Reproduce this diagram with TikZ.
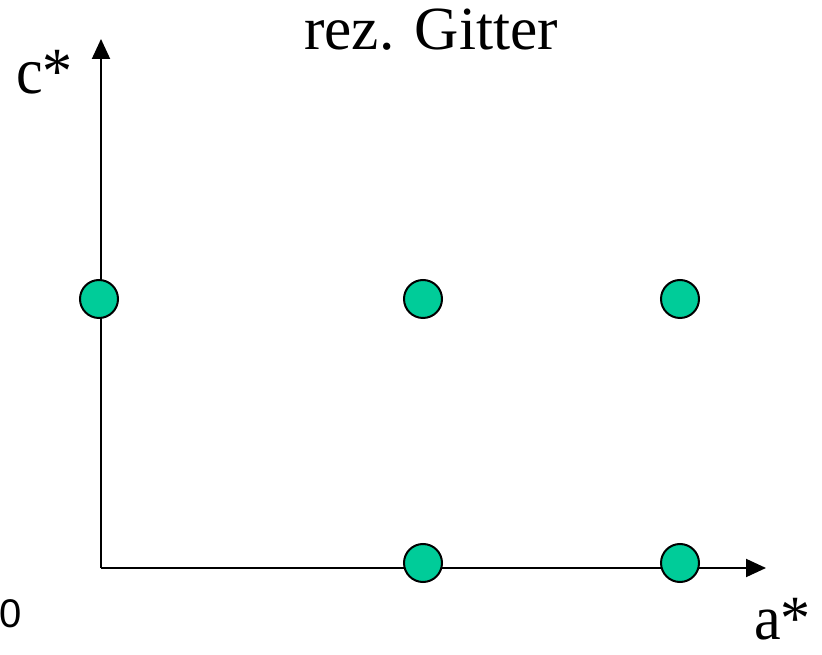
\documentclass[tikz,border=0pt]{standalone}
\usepackage{fontspec}
\setmainfont{Liberation Serif}
\newfontfamily\digitfont{Liberation Sans}
\usetikzlibrary{arrows.meta}

\definecolor{pointgreen}{RGB}{0,204,153}

\tikzset{
  axis/.style={line width=1.5pt, -{Triangle[length=15pt, width=13.5pt]}},
  latticepoint/.style={circle, draw=black, line width=1.5pt, fill=pointgreen,
    minimum size=28.5pt, inner sep=0pt},
  biglabel/.style={inner sep=0pt, font=\fontsize{45}{45}\selectfont}
}

\begin{document}
\begin{tikzpicture}[x=0.75pt, y=-0.75pt]

\useasboundingbox (0,0) rectangle (822,655);

% ── Axes ──
\coordinate (origin) at (101, 568);
\coordinate (cend) at (101, 39);
\coordinate (aend) at (766, 568);
\draw[axis] (origin) -- (cend);
\draw[axis] (origin) -- (aend);

% ── Reciprocal lattice points ──
\foreach \name/\x/\y in {p01/99/299, p11/423/299, p21/680/299, p10/423/563, p20/680/563} {
    \node[latticepoint] (\name) at (\x, \y) {};
}

% ── Labels ──
\node[inner sep=0pt, anchor=base, font=\fontsize{46}{46}\selectfont] (title) at (431, 50) {rez. Gitter};
\node[biglabel, anchor=base west, yscale=1.1] (clabel) at (16, 94) {c*};
\node[biglabel, anchor=base west, yscale=1.05] (alabel) at (754, 640) {a*};
\node[inner sep=0pt, anchor=base west, font=\digitfont\fontsize{30}{30}\selectfont] (zero) at (-1, 628) {0};

\end{tikzpicture}
\end{document}
